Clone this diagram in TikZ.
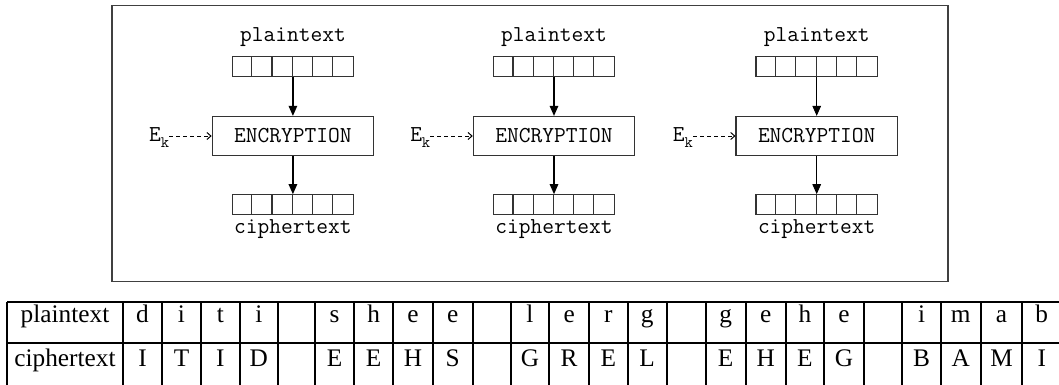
\documentclass[tikz,border=0pt]{standalone}
\usepackage{fontspec}
\setmainfont{Liberation Serif}
\usetikzlibrary{arrows.meta,calc}
\newcommand\monosize{\ttfamily\fontsize{22.8}{26}\selectfont}
\tikzset{
  reg/.style={draw=black!80, line width=1.2pt, minimum width=121.4pt, minimum height=20pt, inner sep=0pt},
  encbox/.style={draw=black!80, line width=1.2pt, minimum width=161.3pt, minimum height=39pt, inner sep=0pt, font=\monosize},
  mlabel/.style={inner sep=0pt, anchor=base, font=\monosize},
  klabel/.style={inner sep=0pt, anchor=base west, font=\monosize},
  flow/.style={draw=black, line width=1.2pt, -{Triangle[length=10pt,width=8.5pt]}},
  keyflow/.style={draw=black, line width=1pt, dash pattern=on 4pt off 3pt, -{Straight Barb[length=4pt,width=7pt]}},
  tline/.style={draw=black, line width=1.8pt},
  tcell/.style={inner sep=0pt, anchor=base, font=\fontsize{25.3}{30}\selectfont},
}
\begin{document}
\begin{tikzpicture}[x=1pt,y=-1pt]
\useasboundingbox (0,0) rectangle (1059,385);
\clip (0,0) rectangle (1059,385);
\fill[white] (0,0) rectangle (1059,385);
% outer frame
\node[draw=black!75, line width=1.4pt, minimum width=836pt, minimum height=276pt, inner sep=0pt] (frame) at (530,143.7) {};
% three encryption blocks
\foreach \i/\cx in {1/292.9, 2/554.0, 3/816.7} {
  \node[mlabel] (pt\i) at (\cx,41.5) {plaintext};
  \node[reg] (rp\i) at (\cx,66.7) {};
  \foreach \j in {1,...,5} \draw[black!80, line width=1.2pt] ([xshift=\j*20.23pt]rp\i.north west) -- ([xshift=\j*20.23pt]rp\i.south west);
  \node[encbox] (enc\i) at (\cx,136) {ENCRYPTION};
  \node[reg] (rc\i) at (\cx,204.8) {};
  \foreach \j in {1,...,5} \draw[black!80, line width=1.2pt] ([xshift=\j*20.23pt]rc\i.north west) -- ([xshift=\j*20.23pt]rc\i.south west);
  \node[mlabel] (ct\i) at (\cx,233) {ciphertext};
  \node[klabel] (k\i) at ($(enc\i.west)+(-62.7,5.7)$) {E\raisebox{-0.25em}{\fontsize{16}{18}\selectfont k}};
  \draw[flow] (rp\i.south) -- (enc\i.north);
  \draw[flow] (enc\i.south) -- (rc\i.north);
  \draw[keyflow] (k\i.east |- enc\i.west) -- (enc\i.west);
}
% table grid
\draw[tline] (7.3,301.7) -- (1065,301.7);
\draw[tline] (7.3,343.3) -- (1065,343.3);
\draw[tline] (7.3,386.5) -- (1065,386.5);
\foreach \x in {7.3,122.7,162.3,200.7,240,277.7,315,354,393.3,432.7,472.7,510.7,549.3,589,627.7,666.7,705.7,745.7,785.7,824,864,902.3,940.7,980.7,1022.3,1061.2}
  \draw[tline] (\x,301.7) -- (\x,390);
\node[tcell] (hp) at (65,322.3) {plaintext};
\node[tcell] (hc) at (65,366.7) {ciphertext};
\foreach \a/\b/\p/\c [count=\n] in {122.7/162.3/d/I, 162.3/200.7/i/T, 200.7/240/t/I, 240/277.7/i/D,
  315/354/s/E, 354/393.3/h/E, 393.3/432.7/e/H, 432.7/472.7/e/S,
  510.7/549.3/l/G, 549.3/589/e/R, 589/627.7/r/E, 627.7/666.7/g/L,
  705.7/745.7/g/E, 745.7/785.7/e/H, 785.7/824/h/E, 824/864/e/G,
  902.3/940.7/i/B, 940.7/980.7/m/A, 980.7/1022.3/a/M, 1022.3/1061.2/b/I} {
  \node[tcell] (p\n) at ({(\a+\b)/2},322.3) {\p};
  \node[tcell] (c\n) at ({(\a+\b)/2},366.7) {\c};
}
\end{tikzpicture}
\end{document}
